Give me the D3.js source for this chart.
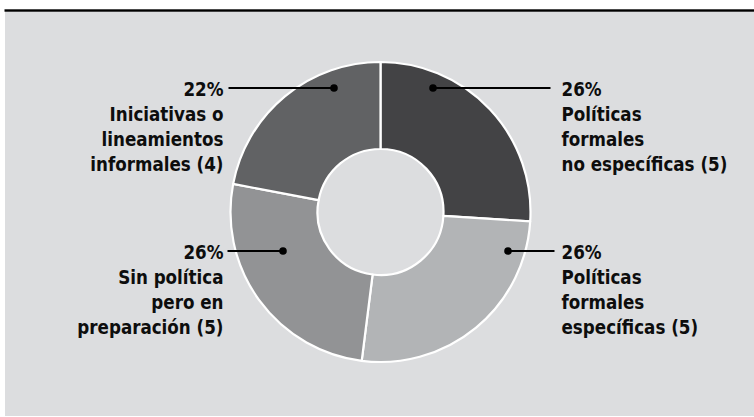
<!DOCTYPE html>
<html><head><meta charset="utf-8">
<script src="https://cdn.jsdelivr.net/npm/d3@7"></script>
<style>body{margin:0;background:#fff;}svg{display:block;}</style>
</head><body>
<svg id="chart" width="754" height="417"></svg>
<script>
// ---- data ----
const categories = ["Políticas formales no específicas", "Políticas formales específicas", "Sin política pero en preparación", "Iniciativas o lineamientos informales"];
const percents = [26, 26, 26, 22];
const counts = [5, 5, 5, 4];
const labelLines = [
  ["Políticas", "formales", "no específicas (5)"],
  ["Políticas", "formales", "específicas (5)"],
  ["Sin política", "pero en", "preparación (5)"],
  ["Iniciativas o", "lineamientos", "informales (4)"]
];

// ---- layout / style ----
const W = 754, H = 417;
const cx = 380.5, cy = 212, rOuter = 150, rInner = 63;
const colors = ["#434345", "#b2b4b6", "#929395", "#616264"];
const bg = "#dcdddf";
const annot = [
  {dot:[52.5,-124], lineEnd:170, textX:181, side:"start"},
  {dot:[127.5,39], lineEnd:174, textX:181, side:"start"},
  {dot:[-97.5,39], lineEnd:-153, textX:-157, side:"end"},
  {dot:[-46.5,-124], lineEnd:-152, textX:-157, side:"end"}
];
const lineH = 24.9;

const svg = d3.select("#chart");
svg.append("rect").attr("x",5).attr("y",11).attr("width",W-5).attr("height",405).attr("fill",bg);
svg.append("rect").attr("x",4.5).attr("y",9.3).attr("width",W-4.5).attr("height",2.4).attr("fill","#000");

const g = svg.append("g").attr("transform",`translate(${cx},${cy})`);
const pie = d3.pie().sort(null).value(d=>d)(percents);
const arc = d3.arc().innerRadius(rInner).outerRadius(rOuter);
g.selectAll("path.slice").data(pie).join("path")
  .attr("class","slice")
  .attr("d",arc)
  .attr("fill",(d,i)=>colors[i])
  .attr("stroke","#fff").attr("stroke-width",2.2).attr("stroke-linejoin","round");

const font = "'DejaVu Sans Condensed', 'DejaVu Sans', sans-serif";
const ann = g.selectAll("g.ann").data(pie).join("g").attr("class","ann");
ann.append("line")
  .attr("x1",(d,i)=>annot[i].dot[0]).attr("y1",(d,i)=>annot[i].dot[1])
  .attr("x2",(d,i)=>annot[i].lineEnd).attr("y2",(d,i)=>annot[i].dot[1])
  .attr("stroke","#000").attr("stroke-width",2);
ann.append("circle")
  .attr("cx",(d,i)=>annot[i].dot[0]).attr("cy",(d,i)=>annot[i].dot[1])
  .attr("r",3.8).attr("fill","#000");
const txt = ann.append("text")
  .attr("x",(d,i)=>annot[i].textX).attr("y",(d,i)=>annot[i].dot[1]+8)
  .attr("text-anchor",(d,i)=>annot[i].side)
  .attr("font-family",font).attr("font-weight",700).attr("font-size",18.6)
  .attr("font-stretch","condensed")
  .attr("fill","#0d0d0d");
txt.each(function(d,i){
  const t = d3.select(this);
  const lines = [percents[i]+"%"].concat(labelLines[i]);
  lines.forEach((s,k)=>{
    t.append("tspan").attr("x",annot[i].textX).attr("dy",k===0?0:lineH).text(s);
  });
});
</script>
</body></html>
